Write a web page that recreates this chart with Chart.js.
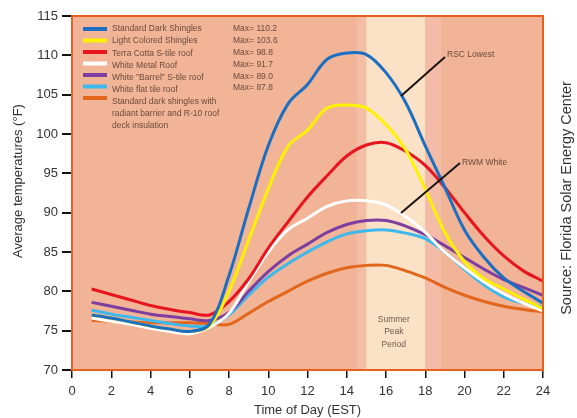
<!DOCTYPE html>
<html>
<head>
<meta charset="utf-8">
<script src="https://cdn.jsdelivr.net/npm/chart.js@4.4.1/dist/chart.umd.min.js"></script>
<style>
  html, body { margin: 0; padding: 0; background: #fff; }
</style>
</head>
<body>
<canvas id="chart" width="577" height="418"></canvas>
<script>
// Hours of the day (EST)
const hours = [1, 2, 3, 4, 5, 6, 7, 8, 9, 10, 11, 12, 13, 14, 15, 16, 17, 18, 19, 20, 21, 22, 23, 24];

// Average temperatures (°F) per roof type
const darkShingles   = [77.0, 76.6, 76.1, 75.6, 75.2, 74.9, 75.8, 82.0, 90.5, 98.5, 103.8, 106.3, 109.5, 110.3, 110.1, 107.8, 104.0, 98.5, 93.2, 87.8, 84.3, 81.7, 80.0, 78.5];
const lightShingles  = [77.0, 76.6, 76.1, 75.6, 75.2, 74.9, 75.6, 80.0, 86.5, 93.0, 98.4, 100.5, 103.3, 103.7, 103.3, 101.2, 98.0, 93.0, 87.5, 83.8, 81.6, 80.3, 79.0, 77.8];
const terraCotta     = [80.3, 79.6, 78.9, 78.2, 77.7, 77.3, 77.0, 78.7, 81.6, 85.5, 88.8, 92.0, 94.7, 97.2, 98.6, 98.9, 97.8, 96.0, 93.2, 90.0, 87.0, 84.5, 82.6, 81.3];
const whiteMetal     = [76.6, 76.2, 75.8, 75.3, 74.9, 74.6, 75.4, 77.2, 81.2, 85.0, 87.8, 89.3, 90.8, 91.5, 91.5, 91.0, 89.5, 87.5, 85.0, 83.0, 81.2, 79.7, 78.5, 77.5];
const whiteBarrel    = [78.6, 78.1, 77.6, 77.1, 76.8, 76.5, 76.3, 77.3, 80.0, 82.5, 84.5, 86.0, 87.5, 88.5, 89.0, 89.0, 88.3, 87.2, 85.8, 84.3, 82.8, 81.5, 80.5, 79.5];
const whiteFlatTile  = [77.6, 77.1, 76.7, 76.3, 75.9, 75.6, 75.6, 77.0, 79.5, 81.8, 83.5, 85.0, 86.3, 87.3, 87.7, 87.8, 87.4, 86.7, 85.0, 82.8, 80.8, 79.3, 78.5, 78.0];
const radiantBarrier = [76.3, 76.2, 76.1, 76.0, 76.0, 76.0, 75.9, 75.8, 77.2, 78.7, 80.0, 81.3, 82.3, 83.0, 83.3, 83.3, 82.6, 81.7, 80.5, 79.5, 78.7, 78.1, 77.7, 77.4];

const seriesValues = [darkShingles, lightShingles, terraCotta, whiteMetal, whiteBarrel, whiteFlatTile, radiantBarrier];
const seriesNames = [
  "Standard Dark Shingles",
  "Light Colored Shingles",
  "Terra Cotta S-tile roof",
  "White Metal Roof",
  "White \"Barrel\" S-tile roof",
  "White flat tile roof",
  "Standard dark shingles with|radiant barrier and R-10 roof|deck insulation"
];
const seriesMax = ["110.2", "103.6", "98.8", "91.7", "89.0", "87.8"];
const seriesColors = ["#1B6FC2", "#FFF200", "#E8141E", "#FFFFFF", "#7C3FA0", "#3DB9EE", "#E2661C"];

const xTicks = [0, 2, 4, 6, 8, 10, 12, 14, 16, 18, 20, 22, 24];
const yTicks = [70, 75, 80, 85, 90, 95, 100, 105, 110, 115];
const peakPeriod = [15, 18];

const FONT = "'Liberation Sans', Arial, sans-serif";

function band(ctx, x, area, from, to, color) {
  const l = x.getPixelForValue(from), r = x.getPixelForValue(to);
  ctx.fillStyle = color;
  ctx.fillRect(l, area.top, r - l, area.bottom - area.top);
}

const decor = {
  id: "decor",
  beforeDatasetsDraw(chart) {
    const { ctx, chartArea: a, scales: { x } } = chart;
    ctx.save();
    ctx.fillStyle = "#F1B496";
    ctx.fillRect(a.left, a.top, a.right - a.left, a.bottom - a.top);
    band(ctx, x, a, peakPeriod[0] - 0.5, peakPeriod[0], "#F4BDA5");
    band(ctx, x, a, peakPeriod[0], peakPeriod[1], "#FBE1C6");
    band(ctx, x, a, peakPeriod[1], peakPeriod[1] + 0.8, "#F4BBA6");

    // summer peak label
    ctx.fillStyle = "#6E5A50";
    ctx.font = "8.5px " + FONT;
    ctx.textAlign = "center";
    ctx.textBaseline = "middle";
    const cx = x.getPixelForValue((peakPeriod[0] + peakPeriod[1]) / 2) - 2;
    ctx.fillText("Summer", cx, 320);
    ctx.fillText("Peak", cx, 332);
    ctx.fillText("Period", cx, 345);
    ctx.restore();
  },
  afterDatasetsDraw(chart) {
    const { ctx, chartArea: a } = chart;
    ctx.save();
    // plot frame
    ctx.strokeStyle = "#E8601E";
    ctx.lineWidth = 2;
    ctx.strokeRect(a.left, a.top, a.right - a.left, a.bottom - a.top);

    // legend
    ctx.lineWidth = 4;
    seriesColors.forEach((c, i) => {
      const y = 29 + i * 11.5;
      ctx.strokeStyle = c;
      ctx.beginPath();
      ctx.moveTo(83, y);
      ctx.lineTo(107, y);
      ctx.stroke();
    });
    ctx.fillStyle = "#6B4A3C";
    ctx.font = "8.5px " + FONT;
    ctx.textAlign = "left";
    ctx.textBaseline = "middle";
    let row = 0;
    seriesNames.forEach(name => {
      name.split("|").forEach(line => {
        ctx.fillText(line, 112, 29 + row * 12.1);
        row++;
      });
    });
    seriesMax.forEach((m, i) => {
      ctx.fillText("Max= " + m, 233, 29 + i * 11.8);
    });

    // callouts
    ctx.strokeStyle = "#1A1410";
    ctx.lineWidth = 2;
    ctx.beginPath();
    ctx.moveTo(401, 96); ctx.lineTo(445, 57);
    ctx.moveTo(401, 213); ctx.lineTo(460, 163);
    ctx.stroke();
    ctx.fillStyle = "#6B4A3C";
    ctx.font = "8.5px " + FONT;
    ctx.fillText("RSC Lowest", 447, 55);
    ctx.fillText("RWM White", 462, 163);
    ctx.restore();
  },
  afterDraw(chart) {
    const { ctx, chartArea: a } = chart;
    ctx.save();
    ctx.fillStyle = "#333";
    ctx.font = "13px " + FONT;
    ctx.textAlign = "center";
    ctx.textBaseline = "middle";
    ctx.fillText("Time of Day (EST)", (a.left + a.right) / 2, 410);

    ctx.translate(18, 181);
    ctx.rotate(-Math.PI / 2);
    ctx.fillText("Average temperatures (\u00B0F)", 0, 0);
    ctx.restore();

    ctx.save();
    ctx.fillStyle = "#333";
    ctx.font = "14.5px " + FONT;
    ctx.textAlign = "center";
    ctx.textBaseline = "middle";
    ctx.translate(567, 198);
    ctx.rotate(-Math.PI / 2);
    ctx.fillText("Source: Florida Solar Energy Center", 0, 0);
    ctx.restore();
  }
};

new Chart(document.getElementById("chart"), {
  type: "line",
  data: {
    datasets: seriesValues.map((vals, i) => ({
      label: seriesNames[i].replace(/\|/g, " "),
      data: vals.map((v, j) => ({ x: hours[j], y: v })),
      borderColor: seriesColors[i],
      borderWidth: 3,
      pointRadius: 0,
      tension: 0.35,
      fill: false
    }))
  },
  options: {
    responsive: false,
    animation: false,
    devicePixelRatio: 1,
    layout: { padding: { left: 0, top: 16, right: 34, bottom: 0 } },
    plugins: { legend: { display: false }, tooltip: { enabled: false } },
    scales: {
      x: {
        type: "linear",
        min: 0,
        max: 24,
        afterFit(scale) { scale.height = 48; },
        afterBuildTicks(scale) { scale.ticks = xTicks.map(v => ({ value: v })); },
        border: { display: false },
        grid: { drawOnChartArea: false, drawTicks: true, tickLength: 8, color: "#111", lineWidth: 1.5 },
        ticks: { color: "#333", padding: 6, font: { family: FONT, size: 13 }, maxRotation: 0 }
      },
      y: {
        min: 70,
        max: 115,
        afterFit(scale) { scale.width = 72; },
        afterBuildTicks(scale) { scale.ticks = yTicks.map(v => ({ value: v })); },
        border: { display: false },
        grid: { drawOnChartArea: false, drawTicks: true, tickLength: 10, color: "#111", lineWidth: 2 },
        ticks: { color: "#333", padding: 4, font: { family: FONT, size: 13 } }
      }
    }
  },
  plugins: [decor]
});
</script>
</body>
</html>
